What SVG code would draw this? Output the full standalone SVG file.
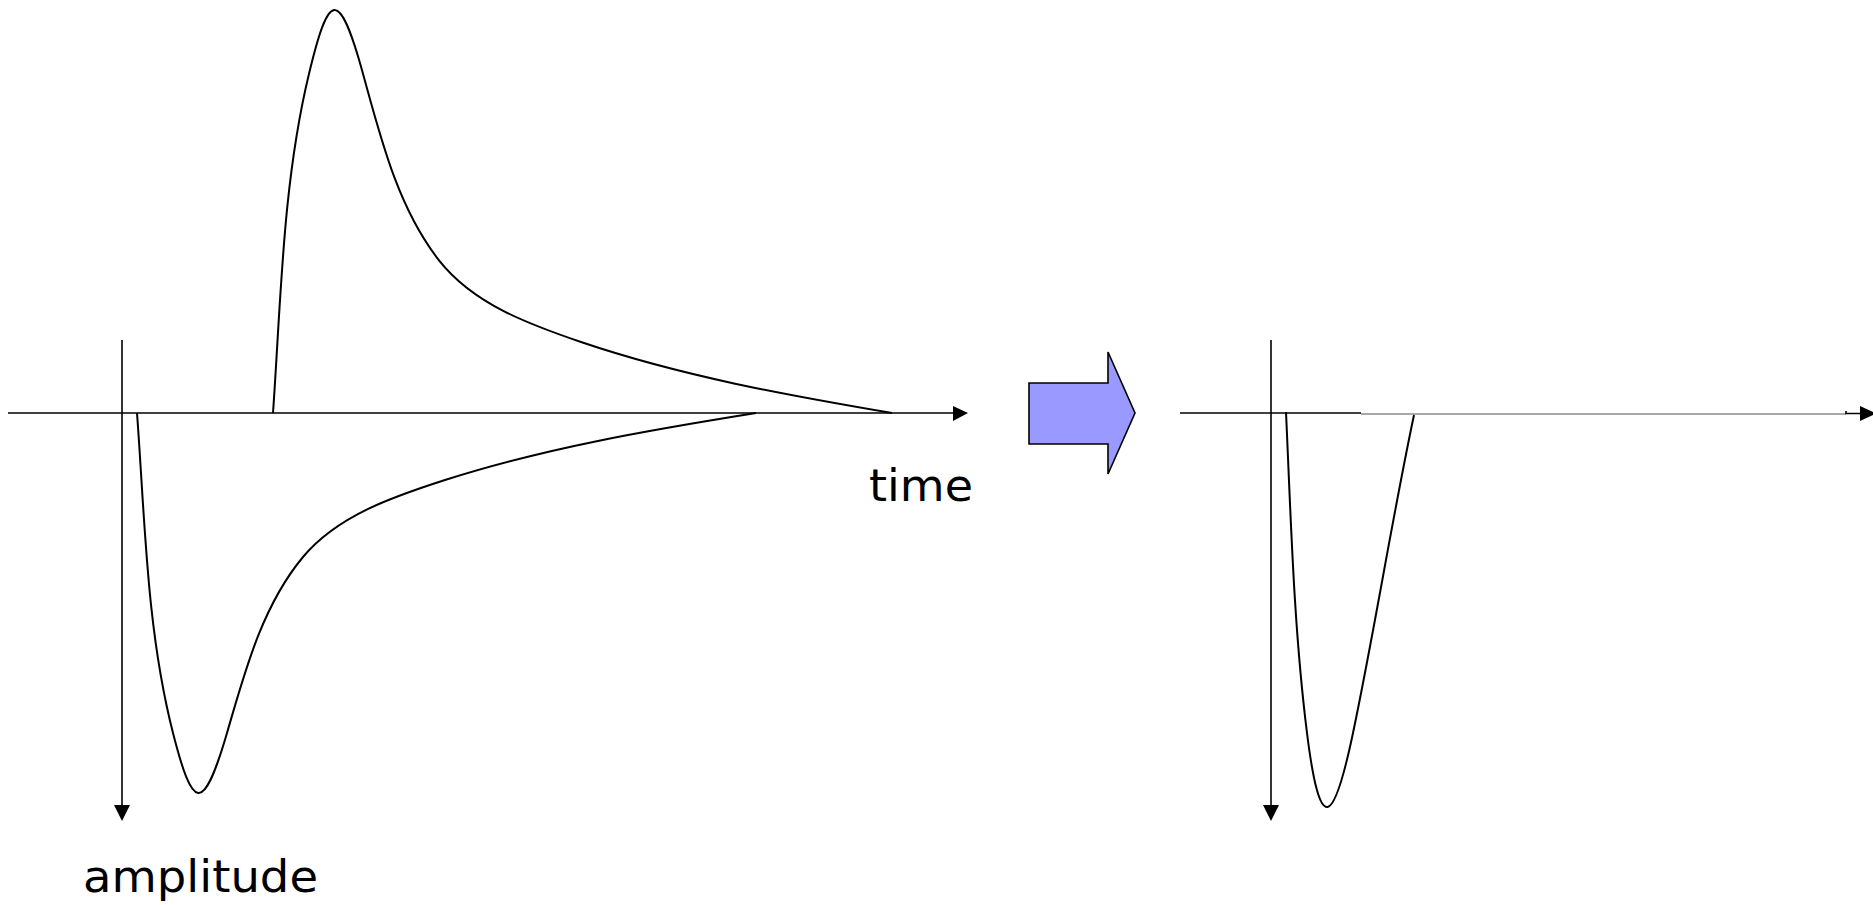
<svg xmlns="http://www.w3.org/2000/svg" width="1873" height="905" viewBox="0 0 1873 905">
<style>
.axis{stroke:#000;stroke-width:1.6;fill:none}
.thin{stroke:#555;stroke-width:1.2;fill:none}
.curve{stroke:#000;stroke-width:2;fill:none;stroke-linejoin:round}
.head{fill:#000;stroke:none}
.lbl{font-family:"DejaVu Sans","Liberation Sans",sans-serif;font-size:44px;fill:#000}
.big{fill:#9999FF;stroke:#000;stroke-width:1.6;stroke-linejoin:miter}
</style>
<rect width="1873" height="905" fill="#fff"/>
<g id="connectors">
  <g id="left-time-axis">
    <line class="axis" x1="8" y1="413" x2="955" y2="413"/>
    <polygon class="head" points="953,406 968,413 953,421"/>
  </g>
  <g id="left-amplitude-axis">
    <line class="axis" x1="122" y1="340" x2="122" y2="807"/>
    <polygon class="head" points="114,805 122,821 130,805"/>
  </g>
  <g id="right-time-axis">
    <line class="axis" x1="1180" y1="413" x2="1361" y2="413"/>
    <line class="thin" x1="1361" y1="414" x2="1846" y2="414"/>
    <polyline class="axis" points="1846,411 1846,413.5 1862,413.5"/>
    <polygon class="head" points="1860,406 1876,413.5 1860,421"/>
  </g>
  <g id="right-amplitude-axis">
    <line class="axis" x1="1271" y1="340" x2="1271" y2="807"/>
    <polygon class="head" points="1263,805 1271,821 1279,805"/>
  </g>
</g>
<g id="left-positive-pulse">
  <path class="curve" d="M273,413 C281,299.5 282.5,183.6 309,73.7 C328.5,-7.3 338.6,-15 363,73.7 C380.9,138.8 398,208.1 439,260.3 C473.6,304.3 529.6,324.5 581,342 C682,376.2 787.3,395.2 892,413"/>
</g>
<g id="left-negative-pulse">
  <path class="curve" d="M137,413 C145,520 146.5,629.3 173,733 C192.5,809.3 202.6,816.6 227,733 C244.9,671.6 262,606.2 303,557 C337.6,515.5 393.6,496.5 445,480 C546,447.7 651.3,429.8 756,413"/>
</g>
<g id="right-negative-pulse">
  <path class="curve" d="M1286,412 C1290.9,518.9 1293.7,626.8 1307,733 C1320,837.2 1333.5,826.1 1353,733 C1375.1,627.3 1391.7,520.6 1414,415"/>
</g>
<g id="transform-arrow">
  <polygon class="big" points="1029,383 1108,383 1108,352 1135,413 1108,474 1108,444 1029,444"/>
</g>
<g id="label-time">
  <text class="lbl" x="869" y="501" textLength="104" lengthAdjust="spacingAndGlyphs">time</text>
</g>
<g id="label-amplitude">
  <text class="lbl" x="83" y="892" textLength="235" lengthAdjust="spacingAndGlyphs">amplitude</text>
</g>
</svg>
